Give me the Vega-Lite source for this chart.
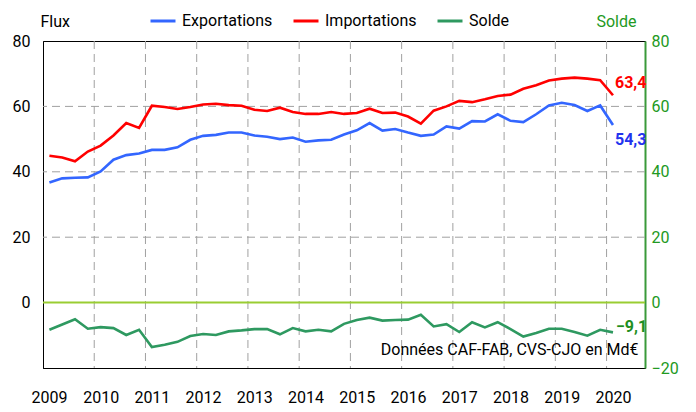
{
  "$schema": "https://vega.github.io/schema/vega-lite/v6.json",
  "width": 602,
  "height": 327,
  "autosize": {"type": "none"},
  "padding": {"left": 43, "top": 41, "right": 51, "bottom": 44},
  "background": "white",
  "config": {
    "font": "Roboto",
    "view": {"stroke": "#000000", "strokeWidth": 1},
    "locale": {"number": {"decimal": ",", "thousands": " ", "grouping": [3], "currency": ["", " €"]}},
    "legend": {"symbolType": "stroke"}
  },
  "data": {"values": [
    {"t": 2009.00, "Exportations": 36.7, "Importations": 44.9, "Solde": -8.3},
    {"t": 2009.25, "Exportations": 38.0, "Importations": 44.4, "Solde": -6.7},
    {"t": 2009.50, "Exportations": 38.2, "Importations": 43.2, "Solde": -5.1},
    {"t": 2009.75, "Exportations": 38.3, "Importations": 46.2, "Solde": -8.0},
    {"t": 2010.00, "Exportations": 40.1, "Importations": 48.0, "Solde": -7.5},
    {"t": 2010.25, "Exportations": 43.7, "Importations": 51.1, "Solde": -7.8},
    {"t": 2010.50, "Exportations": 45.1, "Importations": 54.9, "Solde": -9.9},
    {"t": 2010.75, "Exportations": 45.6, "Importations": 53.4, "Solde": -8.3},
    {"t": 2011.00, "Exportations": 46.7, "Importations": 60.2, "Solde": -13.6},
    {"t": 2011.25, "Exportations": 46.7, "Importations": 59.8, "Solde": -12.9},
    {"t": 2011.50, "Exportations": 47.5, "Importations": 59.2, "Solde": -12.0},
    {"t": 2011.75, "Exportations": 49.8, "Importations": 59.8, "Solde": -10.2},
    {"t": 2012.00, "Exportations": 51.0, "Importations": 60.6, "Solde": -9.6},
    {"t": 2012.25, "Exportations": 51.3, "Importations": 60.8, "Solde": -9.9},
    {"t": 2012.50, "Exportations": 52.0, "Importations": 60.4, "Solde": -8.8},
    {"t": 2012.75, "Exportations": 52.0, "Importations": 60.2, "Solde": -8.5},
    {"t": 2013.00, "Exportations": 51.1, "Importations": 59.0, "Solde": -8.1},
    {"t": 2013.25, "Exportations": 50.7, "Importations": 58.6, "Solde": -8.1},
    {"t": 2013.50, "Exportations": 50.0, "Importations": 59.6, "Solde": -9.7},
    {"t": 2013.75, "Exportations": 50.5, "Importations": 58.3, "Solde": -7.8},
    {"t": 2014.00, "Exportations": 49.2, "Importations": 57.7, "Solde": -8.8},
    {"t": 2014.25, "Exportations": 49.6, "Importations": 57.7, "Solde": -8.3},
    {"t": 2014.50, "Exportations": 49.8, "Importations": 58.3, "Solde": -8.8},
    {"t": 2014.75, "Exportations": 51.4, "Importations": 57.7, "Solde": -6.5},
    {"t": 2015.00, "Exportations": 52.7, "Importations": 58.0, "Solde": -5.3},
    {"t": 2015.25, "Exportations": 54.9, "Importations": 59.3, "Solde": -4.6},
    {"t": 2015.50, "Exportations": 52.6, "Importations": 58.0, "Solde": -5.5},
    {"t": 2015.75, "Exportations": 53.1, "Importations": 58.1, "Solde": -5.3},
    {"t": 2016.00, "Exportations": 52.0, "Importations": 56.9, "Solde": -5.2},
    {"t": 2016.25, "Exportations": 51.0, "Importations": 54.7, "Solde": -3.7},
    {"t": 2016.50, "Exportations": 51.4, "Importations": 58.7, "Solde": -7.3},
    {"t": 2016.75, "Exportations": 53.9, "Importations": 60.0, "Solde": -6.6},
    {"t": 2017.00, "Exportations": 53.2, "Importations": 61.7, "Solde": -9.0},
    {"t": 2017.25, "Exportations": 55.5, "Importations": 61.3, "Solde": -6.0},
    {"t": 2017.50, "Exportations": 55.4, "Importations": 62.2, "Solde": -7.6},
    {"t": 2017.75, "Exportations": 57.6, "Importations": 63.2, "Solde": -6.0},
    {"t": 2018.00, "Exportations": 55.6, "Importations": 63.6, "Solde": -8.1},
    {"t": 2018.25, "Exportations": 55.2, "Importations": 65.4, "Solde": -10.4},
    {"t": 2018.50, "Exportations": 57.6, "Importations": 66.5, "Solde": -9.3},
    {"t": 2018.75, "Exportations": 60.3, "Importations": 67.9, "Solde": -8.0},
    {"t": 2019.00, "Exportations": 61.1, "Importations": 68.5, "Solde": -8.0},
    {"t": 2019.25, "Exportations": 60.4, "Importations": 68.8, "Solde": -9.0},
    {"t": 2019.50, "Exportations": 58.6, "Importations": 68.5, "Solde": -10.1},
    {"t": 2019.75, "Exportations": 60.3, "Importations": 68.0, "Solde": -8.3},
    {"t": 2020.00, "Exportations": 54.3, "Importations": 63.4, "Solde": -9.1}
  ]},
  "layer": [
    {
      "data": {"values": [{}]},
      "mark": {"type": "rule", "color": "#a0a0a0", "strokeWidth": 1, "strokeDash": [8, 5]},
      "encoding": {"y": {"datum": 20, "type": "quantitative", "scale": {"domain": [-20, 80], "nice": false, "zero": false}, "axis": null}}
    },
    {
      "data": {"values": [{}]},
      "mark": {"type": "rule", "color": "#a0a0a0", "strokeWidth": 1, "strokeDash": [8, 5]},
      "encoding": {"y": {"datum": 40, "type": "quantitative", "scale": {"domain": [-20, 80], "nice": false, "zero": false}, "axis": null}}
    },
    {
      "data": {"values": [{}]},
      "mark": {"type": "rule", "color": "#a0a0a0", "strokeWidth": 1, "strokeDash": [8, 5]},
      "encoding": {"y": {"datum": 60, "type": "quantitative", "scale": {"domain": [-20, 80], "nice": false, "zero": false}, "axis": null}}
    },
    {
      "encoding": {
        "x": {
          "field": "t", "type": "quantitative",
          "scale": {"domain": [2008.875, 2020.625], "nice": false, "zero": false},
          "axis": {
            "title": null,
            "values": [2008.875, 2009.875, 2010.875, 2011.875, 2012.875, 2013.875, 2014.875, 2015.875, 2016.875, 2017.875, 2018.875, 2019.875],
            "labelExpr": "toString(round(datum.value + 0.125))",
            "labelOffset": 6.4,
            "labelOverlap": false,
            "labelFlushOffset": 18.4,
            "labelFontSize": 16,
            "labelColor": "#000000",
            "labelPadding": 21,
            "ticks": false,
            "domainColor": "#000000",
            "grid": false
          }
        }
      },
      "layer": [
        {
          "transform": [{"filter": "datum.t % 1 == 0.75"}],
          "mark": {"type": "rule", "color": "#a0a0a0", "strokeWidth": 1, "strokeDash": [8, 5], "xOffset": 6.4},
          "encoding": {}
        },
        {
          "transform": [{"fold": ["Exportations", "Importations", "Solde"], "as": ["serie", "v"]}],
          "mark": {"type": "line", "strokeWidth": 2.6},
          "encoding": {
            "y": {
              "field": "v", "type": "quantitative",
              "scale": {"domain": [-20, 80], "nice": false, "zero": false},
              "axis": {
                "orient": "left",
                "values": [0, 20, 40, 60, 80],
                "title": "Flux",
                "titleAngle": 0,
                "titleAlign": "left",
                "titleBaseline": "middle",
                "titleX": -3,
                "titleY": -20,
                "titleFontSize": 16,
                "titleFontWeight": "normal",
                "titleColor": "#000000",
                "labelFontSize": 16,
                "labelColor": "#000000",
                "labelPadding": 13,
                "ticks": false,
                "domainColor": "#000000",
                "grid": false
              }
            },
            "color": {
              "field": "serie", "type": "nominal",
              "scale": {"domain": ["Exportations", "Importations", "Solde"], "range": ["#3366ff", "#ff0000", "#2e9960"]},
              "legend": {
                "title": null,
                "orient": "none",
                "direction": "horizontal",
                "legendX": 106,
                "legendY": -34,
                "labelFontSize": 16,
                "labelColor": "#000000",
                "symbolSize": 625,
                "symbolStrokeWidth": 3,
                "labelOffset": 5,
                "columnPadding": 14
              }
            }
          }
        },
        {
          "transform": [{"filter": "datum.t == 2020"}],
          "mark": {"type": "text", "align": "left", "baseline": "middle", "dx": 2, "dy": -12, "fontSize": 16, "fontWeight": "bold", "color": "#ff0000"},
          "encoding": {
            "y": {"field": "Importations", "type": "quantitative"},
            "text": {"field": "Importations", "type": "quantitative", "format": ".1f"}
          }
        },
        {
          "transform": [{"filter": "datum.t == 2020"}],
          "mark": {"type": "text", "align": "left", "baseline": "middle", "dx": 2, "dy": 15, "fontSize": 16, "fontWeight": "bold", "color": "#2233ee"},
          "encoding": {
            "y": {"field": "Exportations", "type": "quantitative"},
            "text": {"field": "Exportations", "type": "quantitative", "format": ".1f"}
          }
        },
        {
          "transform": [{"filter": "datum.t == 2020"}],
          "mark": {"type": "text", "align": "left", "baseline": "middle", "dx": 3, "dy": -5, "fontSize": 16, "fontWeight": "bold", "color": "#1f8f1f"},
          "encoding": {
            "y": {"field": "Solde", "type": "quantitative"},
            "text": {"field": "Solde", "type": "quantitative", "format": ".1f"}
          }
        },
        {
          "transform": [{"filter": "datum.t == 2020"}],
          "mark": {"type": "text", "align": "right", "baseline": "middle", "dx": 25.5, "dy": 18, "fontSize": 16, "color": "#000000", "text": "Données CAF-FAB, CVS-CJO en Md€"},
          "encoding": {
            "y": {"field": "Solde", "type": "quantitative"}
          }
        }
      ]
    },
    {
      "data": {"values": [{}]},
      "mark": {"type": "rule", "color": "#9acd32", "strokeWidth": 2},
      "encoding": {
        "y": {
          "datum": 0, "type": "quantitative",
          "scale": {"domain": [-20, 80], "nice": false, "zero": false},
          "axis": {
            "orient": "right",
            "values": [-20, 0, 20, 40, 60, 80],
            "title": "Solde",
            "titleAngle": 0,
            "titleAlign": "right",
            "titleBaseline": "middle",
            "titleX": -9,
            "titleY": -20,
            "titleFontSize": 16,
            "titleFontWeight": "normal",
            "titleColor": "#229922",
            "labelFontSize": 16,
            "labelColor": "#229922",
            "labelPadding": 6,
            "ticks": false,
            "domainColor": "#3a9a3a",
            "domainWidth": 2,
            "grid": false
          }
        }
      }
    }
  ],
  "resolve": {"scale": {"y": "independent"}, "axis": {"y": "independent"}}
}
